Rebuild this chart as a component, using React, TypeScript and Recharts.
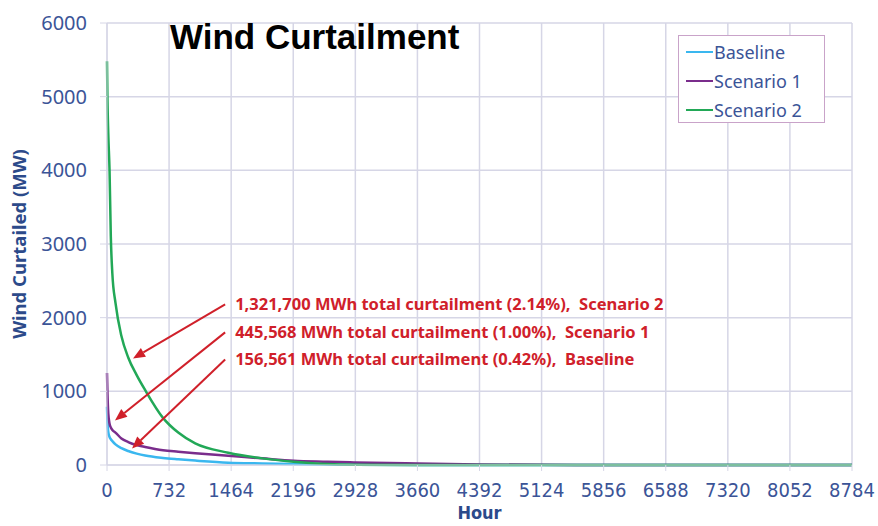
import { LineChart, Line, XAxis, YAxis, CartesianGrid, ReferenceLine } from 'recharts';

document.body.style.margin = '0';

const hours = [0, 5, 15, 30, 45, 63, 100, 170, 250, 350, 450, 660, 840, 1040, 1430, 1830, 2200, 2600, 2930, 3660, 4390, 5120, 5860, 8784];
const baseline = [790, 600, 450, 380, 350, 325, 280, 228, 190, 155, 128, 95, 77, 60, 32, 22, 14, 6, 2, 0, 0, 0, 0, 0];
const scenario1 = [1250, 1000, 700, 560, 510, 475, 440, 360, 312, 270, 244, 200, 180, 160, 126, 90, 58, 45, 35, 20, 8, 2, 0, 0];
const scenario2 = [5480, 5000, 4500, 4000, 3100, 2600, 2200, 1750, 1460, 1220, 1016, 640, 440, 293, 167, 90, 45, 12, 3, 0, 0, 0, 0, 0];

const xTicks = [0, 732, 1464, 2196, 2928, 3660, 4392, 5124, 5856, 6588, 7320, 8052, 8784];
const yTicks = [0, 1000, 2000, 3000, 4000, 5000, 6000];

const series = [
  { key: 'baseline', name: 'Baseline', color: '#3ab7ef' },
  { key: 'scenario1', name: 'Scenario 1', color: '#7a2d8c' },
  { key: 'scenario2', name: 'Scenario 2', color: '#22a857' },
];

// annotation arrows: text start point -> curve point (hour, MW)
const notes = [
  { text: '1,321,700 MWh total curtailment (2.14%),  Scenario 2', from: [1393, 2181], to: [307, 1447] },
  { text: '445,568 MWh total curtailment (1.00%),  Scenario 1', from: [1393, 1800], to: [94, 605] },
  { text: '156,561 MWh total curtailment (0.42%),  Baseline', from: [1393, 1433], to: [295, 224] },
];

const data = hours.map((h, i) => ({
  hour: h,
  baseline: baseline[i],
  scenario1: scenario1[i],
  scenario2: scenario2[i],
}));

const gridColor = '#d6d6e6';
const axisText = '#3b5497';
const red = '#d0202a';

function arrowShape(text: string) {
  return (p: any) => {
    const { x1, y1, x2, y2 } = p;
    const a = Math.atan2(y2 - y1, x2 - x1);
    const len = 12, w = 5;
    const bx = x2 - len * Math.cos(a), by = y2 - len * Math.sin(a);
    const pts = [
      `${x2},${y2}`,
      `${bx + w * Math.sin(a)},${by - w * Math.cos(a)}`,
      `${bx - w * Math.sin(a)},${by + w * Math.cos(a)}`,
    ].join(' ');
    return (
      <g>
        <line x1={x1} y1={y1} x2={bx} y2={by} stroke={red} strokeWidth={2} />
        <polygon points={pts} fill={red} />
        <text x={x1 + 10} y={y1 - 1} dominantBaseline="central" fill={red}
          style={{ fontFamily: 'Noto Sans', fontWeight: 700, fontSize: 16.5, whiteSpace: 'pre' }}>
          {text}
        </text>
      </g>
    );
  };
}

function LegendBox() {
  return (
    <div style={{ position: 'absolute', left: 678, top: 35, border: '1px solid #c9a3c9', width: 147, height: 88, boxSizing: 'border-box', padding: '1px 0 0 7px', background: '#fff' }}>
      {series.map((s) => (
        <div key={s.key} style={{ display: 'flex', alignItems: 'center', height: 29 }}>
          <span style={{ display: 'inline-block', width: 27, height: 2, background: s.color, marginRight: 1 }} />
          <span style={{ fontFamily: 'Noto Sans', fontSize: 18, color: axisText }}>{s.name}</span>
        </div>
      ))}
    </div>
  );
}

export default function App() {
  return (
    <div style={{ position: 'relative', width: 878, height: 526, background: '#fff' }}>
      <LineChart width={878} height={526} data={data} margin={{ top: 23, right: 26, left: 27, bottom: 31 }}>
        <CartesianGrid stroke={gridColor} strokeWidth={1.5} />
        <XAxis
          dataKey="hour"
          type="number"
          domain={[0, 8784]}
          ticks={xTicks}
          interval={0}
          stroke={gridColor}
          tickSize={6}
          tickMargin={12}
          tick={{ fill: axisText, fontSize: 20, fontFamily: 'DejaVu Sans Condensed' }}
          label={(p: any) => (
            <text x={p.viewBox.x + p.viewBox.width / 2} y={512} textAnchor="middle" dominantBaseline="central"
              fill="#2c4a8a" style={{ fontFamily: 'DejaVu Sans Condensed', fontWeight: 700, fontSize: 18 }}>
              Hour
            </text>
          )}
        />
        <YAxis
          type="number"
          domain={[0, 6000]}
          ticks={yTicks}
          width={80}
          stroke={gridColor}
          tickSize={7}
          tickMargin={13}
          tick={{ fill: axisText, fontSize: 20, fontFamily: 'Noto Sans' }}
          label={(p: any) => (
            <text x={18} y={p.viewBox.y + p.viewBox.height / 2} textAnchor="middle" dominantBaseline="central"
              transform={`rotate(-90, 18, ${p.viewBox.y + p.viewBox.height / 2})`}
              fill="#2c4a8a" style={{ fontFamily: 'Noto Sans', fontWeight: 700, fontSize: 18.5 }}>
              Wind Curtailed (MW)
            </text>
          )}
        />
        {series.map((s) => (
          <Line key={s.key} type="monotone" dataKey={s.key} name={s.name} stroke={s.color} strokeWidth={2.5} dot={false} isAnimationActive={false} />
        ))}
        {notes.map((n, i) => (
          <ReferenceLine
            key={i}
            segment={[{ x: n.from[0], y: n.from[1] }, { x: n.to[0], y: n.to[1] }]}
            shape={arrowShape(n.text)}
            ifOverflow="visible"
          />
        ))}
      </LineChart>
      <LegendBox />
      <div style={{ position: 'absolute', left: 170, top: 15, fontFamily: 'Liberation Sans', fontWeight: 700, fontSize: 35, color: '#000', lineHeight: '44px' }}>
        Wind Curtailment
      </div>
    </div>
  );
}
